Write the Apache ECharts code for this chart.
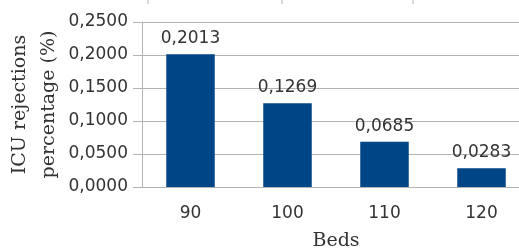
<!DOCTYPE html>
<html>
<head>
<meta charset="utf-8">
<script src="https://cdn.jsdelivr.net/npm/echarts@6/dist/echarts.min.js"></script>
<style>
  html, body { margin: 0; padding: 0; background: #fff; }
  #chart { width: 519px; height: 251px; }
</style>
</head>
<body>
<div id="chart"></div>
<script>
// beds vs ICU rejections
const beds = ['90', '100', '110', '120'];
const rejections = [0.2013, 0.1269, 0.0685, 0.0283];

const comma = v => v.toFixed(4).replace('.', ',');
const gray = '#b3b3b3';
const sans = 'DejaVu Sans';
const serif = 'DejaVu Serif';

const chart = echarts.init(document.getElementById('chart'));
chart.setOption({
    animation: false,
    grid: { left: 142, right: -11, top: 22, bottom: 64, containLabel: false, outerBoundsMode: 'none' },
    xAxis: {
        type: 'category',
        data: beds,
        name: 'Beds',
        nameLocation: 'middle',
        nameGap: 45,
        nameMoveOverlap: false,
        nameTextStyle: { fontFamily: serif, fontSize: 19, color: '#333' },
        axisLine: { lineStyle: { color: gray } },
        axisTick: { length: 8, lineStyle: { color: gray } },
        axisLabel: { margin: 18, fontFamily: sans, fontSize: 17, color: '#333' }
    },
    yAxis: {
        type: 'value',
        min: 0,
        max: 0.25,
        interval: 0.05,
        name: 'ICU rejections\npercentage (%)',
        nameLocation: 'middle',
        nameRotate: 90,
        nameGap: 78,
        nameMoveOverlap: false,
        nameTextStyle: { fontFamily: serif, fontSize: 19, color: '#333', lineHeight: 29 },
        axisLine: { show: true, lineStyle: { color: gray } },
        axisTick: { show: true, length: 9, lineStyle: { color: gray } },
        axisLabel: { margin: 14, fontFamily: sans, fontSize: 17, color: '#333', formatter: comma },
        splitLine: { lineStyle: { color: gray } }
    },
    series: [{
        type: 'bar',
        data: rejections,
        barWidth: '50%',
        itemStyle: { color: '#004586' },
        label: {
            show: true,
            position: 'top',
            distance: 7,
            fontFamily: sans,
            fontSize: 17,
            color: '#333',
            formatter: p => comma(p.value)
        }
    }],
    graphic: [148, 282, 413].map(x => ({
        type: 'line',
        shape: { x1: x, y1: 0, x2: x, y2: 4 },
        style: { stroke: gray, lineWidth: 1 }
    }))
});
</script>
</body>
</html>
